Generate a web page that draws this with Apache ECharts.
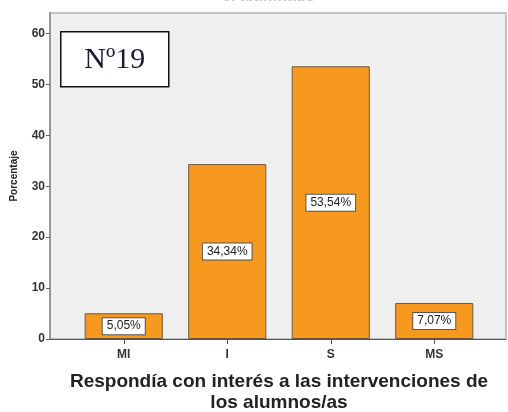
<!DOCTYPE html>
<html>
<head>
<meta charset="utf-8">
<script src="https://cdn.jsdelivr.net/npm/echarts@6/dist/echarts.min.js"></script>
<style>
  html, body { margin: 0; padding: 0; background: #fff; }
  #chart { width: 508px; height: 412px; }
</style>
</head>
<body>
<div id="chart"></div>
<script>
// datos
const categorias = ['MI', 'I', 'S', 'MS'];
const porcentajes = [5.05, 34.34, 53.54, 7.07];
const marcasY = [0, 10, 20, 30, 40, 50, 60];

const chart = echarts.init(document.getElementById('chart'));

const fmt = v => v.toFixed(2).replace('.', ',') + '%';

const option = {
  backgroundColor: '#ffffff',
  animation: false,
  textStyle: { fontFamily: 'Liberation Sans, Arial, sans-serif' },
  grid: [
    // marco gris con el eje Y
    { left: 50, right: 2, top: 13, bottom: 73, show: true, outerBoundsMode: 'none',
      backgroundColor: '#efefef', borderColor: '#b4b4b4', borderWidth: 1.5 },
    // zona de las barras
    { left: 72, right: 22, top: 13, bottom: 73, outerBoundsMode: 'none' }
  ],
  xAxis: [
    { gridIndex: 0, type: 'value', min: 0, max: 1,
      axisLine: { show: true, lineStyle: { color: '#555', width: 1 } },
      axisTick: { show: false }, axisLabel: { show: false }, splitLine: { show: false } },
    { gridIndex: 1, type: 'category', data: categorias,
      axisLine: { show: false },
      axisTick: { show: true, alignWithLabel: true, length: 5, lineStyle: { color: '#555' } },
      axisLabel: { margin: 10, fontSize: 12, fontWeight: 'bold', color: '#333' },
      name: 'Respondía con interés a las intervenciones de\nlos alumnos/as',
      nameLocation: 'middle', nameGap: 32,
      nameTextStyle: { fontSize: 19, fontWeight: 'bold', color: '#222', lineHeight: 21 } }
  ],
  yAxis: [
    { gridIndex: 0, type: 'value', min: 0, max: 64,
      axisLine: { show: true, lineStyle: { color: '#888', width: 1.5 } },
      axisTick: { show: true, length: 4, customValues: marcasY, lineStyle: { color: '#666' } },
      axisLabel: { customValues: marcasY, fontSize: 12, fontWeight: 'bold', color: '#333', margin: 5 },
      splitLine: { show: false },
      name: 'Porcentaje', nameLocation: 'middle', nameGap: 31,
      nameTextStyle: { fontSize: 10, fontWeight: 'bold', color: '#222' } },
    { gridIndex: 1, type: 'value', min: 0, max: 64, show: false }
  ],
  series: [
    {
      type: 'bar',
      xAxisIndex: 1, yAxisIndex: 1,
      data: porcentajes,
      barWidth: '75.5%',
      itemStyle: { color: '#f7991f', borderColor: '#6e5a40', borderWidth: 1 },
      label: {
        show: true, position: 'inside',
        formatter: p => fmt(p.value),
        backgroundColor: '#ffffff', borderColor: '#555', borderWidth: 1,
        padding: [2, 4, 2, 4], fontSize: 12, color: '#222'
      }
    }
  ],
  graphic: [
    { type: 'text', x: 222, y: -11,
      style: { text: 'el alumnado', fill: '#c8c8c8', font: 'bold 16px Liberation Sans, Arial' } },
    { type: 'group', left: 60, top: 31, children: [
      { type: 'rect', shape: { x: 0, y: 0, width: 108, height: 55 },
        style: { fill: '#ffffff', stroke: '#111', lineWidth: 1.5 } },
      { type: 'text', x: 54, y: 28,
        style: { text: 'Nº19', fill: '#1c1c3a', font: '30px Liberation Serif, Times New Roman, serif',
                 align: 'center', verticalAlign: 'middle' } }
    ] }
  ]
};

chart.setOption(option);
</script>
</body>
</html>
